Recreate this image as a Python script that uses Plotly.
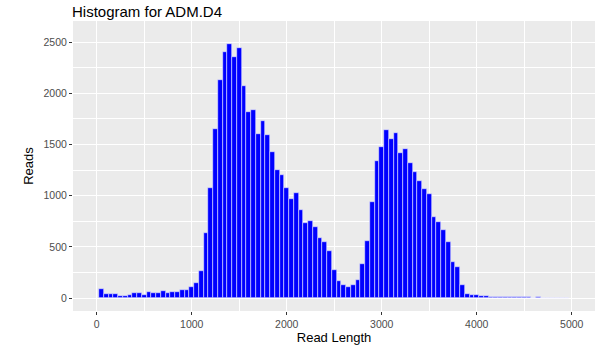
import plotly.graph_objects as go

bin_width = 50
counts = [
    94, 42, 39, 40, 26, 26, 32, 52, 49, 29,
    58, 49, 49, 68, 52, 65, 65, 78, 81, 107,
    149, 266, 640, 1072, 1650, 2134, 2403, 2485, 2358, 2442,
    2069, 1819, 1835, 1598, 1731, 1588, 1423, 1254, 1202, 1080,
    966, 1025, 861, 737, 750, 692, 585, 552, 464, 273,
    169, 127, 107, 127, 179, 331, 555, 935, 1335, 1478,
    1643, 1556, 1614, 1413, 1452, 1315, 1228, 1140, 1068, 1017,
    792, 740, 666, 552, 357, 302, 130, 42, 32, 29,
    26, 19, 16, 13, 13, 11, 11, 10, 10, 9,
    9, 4, 7, 4, 3, 2, 2, 1, 1,
]
bin_centers = [bin_width * (i + 1) for i in range(len(counts))]

x_ticks = [0, 1000, 2000, 3000, 4000, 5000]
y_ticks = [0, 500, 1000, 1500, 2000, 2500]

fig = go.Figure(
    go.Bar(
        x=bin_centers,
        y=counts,
        width=bin_width,
        marker=dict(color="#0000FF", line=dict(color="#E6E6FF", width=0.6)),
    )
)

axis_common = dict(
    showgrid=True,
    gridcolor="white",
    gridwidth=1.1,
    zeroline=False,
    showline=False,
    automargin=False,
    ticks="outside",
    ticklen=3,
    tickwidth=1,
    tickcolor="#333333",
    tickfont=dict(family="Liberation Sans, Arial, sans-serif", size=10.5, color="#4D4D4D"),
)

fig.update_layout(
    width=611,
    height=349,
    margin=dict(l=73, r=16, t=21, b=38),
    paper_bgcolor="white",
    plot_bgcolor="#EBEBEB",
    bargap=0,
    showlegend=False,
    font=dict(family="Liberation Sans, Arial, sans-serif"),
    title=dict(
        text="Histogram for ADM.D4",
        font=dict(size=15, color="black"),
        xref="container",
        x=72 / 611,
        xanchor="left",
        yref="container",
        y=1 - 12 / 349,
        yanchor="middle",
    ),
    xaxis=dict(
        range=[-250, 5245],
        tickvals=x_ticks,
        ticktext=[str(v) for v in x_ticks],
        minor=dict(dtick=500, tick0=500, showgrid=True, gridcolor="white", gridwidth=0.5, ticks=""),
        title=dict(text="Read Length", font=dict(size=13, color="black"), standoff=4),
        **axis_common,
    ),
    yaxis=dict(
        range=[-125, 2705],
        tickvals=y_ticks,
        ticktext=[str(v) for v in y_ticks],
        minor=dict(dtick=250, tick0=250, showgrid=True, gridcolor="white", gridwidth=0.5, ticks=""),
        title=dict(text="Reads", font=dict(size=13, color="black"), standoff=6),
        **axis_common,
    ),
)

fig.write_html("out.html")
